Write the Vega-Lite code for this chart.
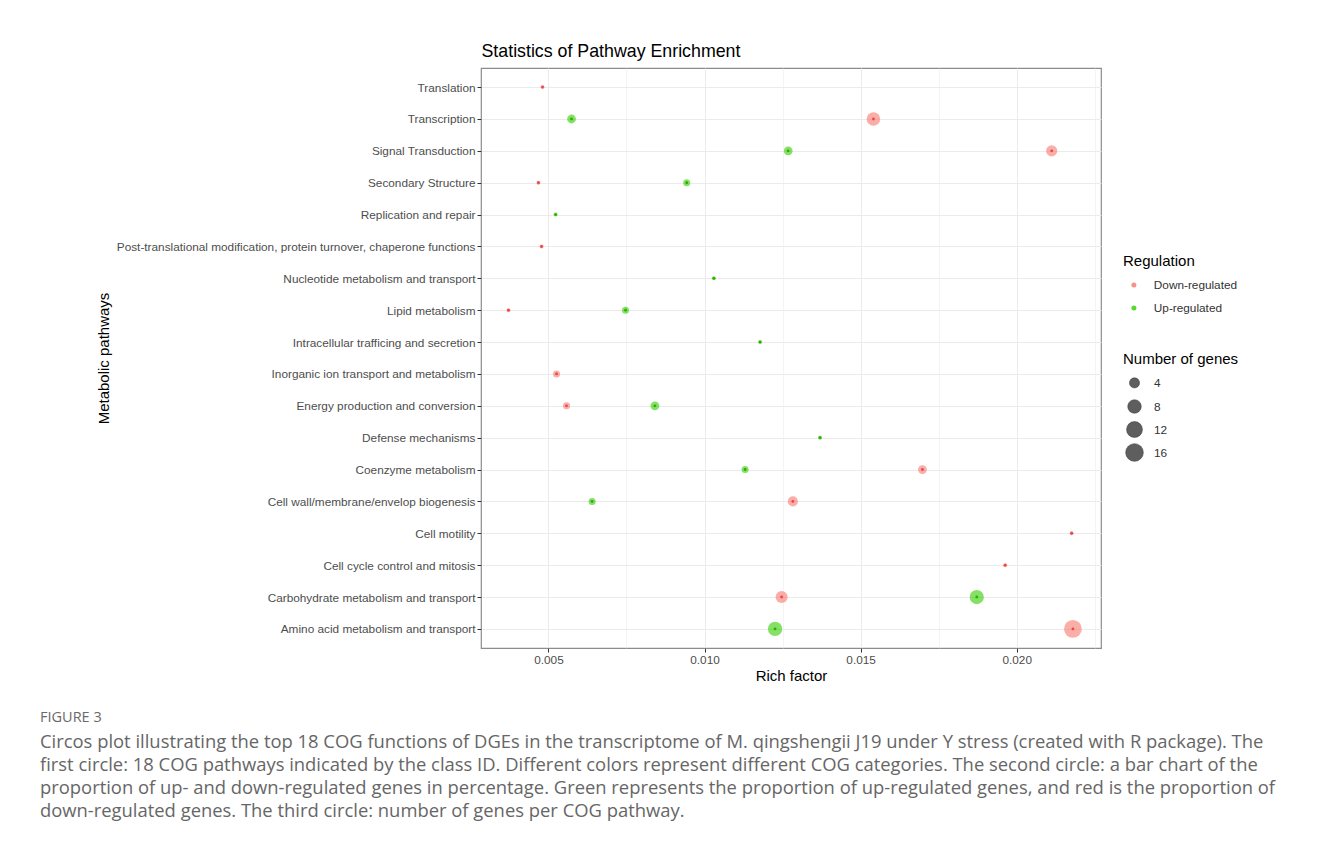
{
  "$schema": "https://vega.github.io/schema/vega-lite/v6.json",
  "autosize": "none",
  "width": 620,
  "height": 580,
  "padding": {"left": 481, "top": 68, "right": 230, "bottom": 199},
  "background": "white",
  "title": {
    "text": "FIGURE 3",
    "subtitle": [
      "Circos plot illustrating the top 18 COG functions of DGEs in the transcriptome of M. qingshengii J19 under Y stress (created with R package). The",
      "first circle: 18 COG pathways indicated by the class ID. Different colors represent different COG categories. The second circle: a bar chart of the",
      "proportion of up- and down-regulated genes in percentage. Green represents the proportion of up-regulated genes, and red is the proportion of",
      "down-regulated genes. The third circle: number of genes per COG pathway."
    ],
    "orient": "bottom",
    "anchor": "start",
    "frame": "group",
    "dx": -441,
    "offset": 27,
    "font": "Open Sans",
    "fontSize": 14.5,
    "fontWeight": "normal",
    "color": "#6a6a6a",
    "subtitleFont": "Open Sans",
    "subtitleFontSize": 18.4,
    "subtitleColor": "#666666",
    "subtitleLineHeight": 23,
    "subtitlePadding": 8
  },
  "data": {
    "values": [
      {"pathway": "Translation", "regulation": "Down-regulated", "rich": 0.00481, "count": 1},
      {"pathway": "Transcription", "regulation": "Up-regulated", "rich": 0.00574, "count": 3},
      {"pathway": "Transcription", "regulation": "Down-regulated", "rich": 0.01541, "count": 8},
      {"pathway": "Signal Transduction", "regulation": "Up-regulated", "rich": 0.01268, "count": 3},
      {"pathway": "Signal Transduction", "regulation": "Down-regulated", "rich": 0.02112, "count": 5},
      {"pathway": "Secondary Structure", "regulation": "Down-regulated", "rich": 0.00468, "count": 1},
      {"pathway": "Secondary Structure", "regulation": "Up-regulated", "rich": 0.00943, "count": 2},
      {"pathway": "Replication and repair", "regulation": "Up-regulated", "rich": 0.00523, "count": 1},
      {"pathway": "Post-translational modification, protein turnover, chaperone functions", "regulation": "Down-regulated", "rich": 0.00478, "count": 1},
      {"pathway": "Nucleotide metabolism and transport", "regulation": "Up-regulated", "rich": 0.0103, "count": 1},
      {"pathway": "Lipid metabolism", "regulation": "Down-regulated", "rich": 0.00372, "count": 1},
      {"pathway": "Lipid metabolism", "regulation": "Up-regulated", "rich": 0.00747, "count": 2},
      {"pathway": "Intracellular trafficing and secretion", "regulation": "Up-regulated", "rich": 0.01178, "count": 1},
      {"pathway": "Inorganic ion transport and metabolism", "regulation": "Down-regulated", "rich": 0.00526, "count": 2},
      {"pathway": "Energy production and conversion", "regulation": "Down-regulated", "rich": 0.00558, "count": 2},
      {"pathway": "Energy production and conversion", "regulation": "Up-regulated", "rich": 0.00841, "count": 3},
      {"pathway": "Defense mechanisms", "regulation": "Up-regulated", "rich": 0.0137, "count": 1},
      {"pathway": "Coenzyme metabolism", "regulation": "Up-regulated", "rich": 0.0113, "count": 2},
      {"pathway": "Coenzyme metabolism", "regulation": "Down-regulated", "rich": 0.01698, "count": 3},
      {"pathway": "Cell wall/membrane/envelop biogenesis", "regulation": "Up-regulated", "rich": 0.0064, "count": 2},
      {"pathway": "Cell wall/membrane/envelop biogenesis", "regulation": "Down-regulated", "rich": 0.01283, "count": 4},
      {"pathway": "Cell motility", "regulation": "Down-regulated", "rich": 0.02176, "count": 1},
      {"pathway": "Cell cycle control and mitosis", "regulation": "Down-regulated", "rich": 0.01963, "count": 1},
      {"pathway": "Carbohydrate metabolism and transport", "regulation": "Down-regulated", "rich": 0.01247, "count": 6},
      {"pathway": "Carbohydrate metabolism and transport", "regulation": "Up-regulated", "rich": 0.01872, "count": 9},
      {"pathway": "Amino acid metabolism and transport", "regulation": "Up-regulated", "rich": 0.01226, "count": 9},
      {"pathway": "Amino acid metabolism and transport", "regulation": "Down-regulated", "rich": 0.0218, "count": 16}
    ]
  },
  "encoding": {
    "y": {
      "field": "pathway",
      "type": "nominal",
      "sort": ["Translation", "Transcription", "Signal Transduction", "Secondary Structure", "Replication and repair", "Post-translational modification, protein turnover, chaperone functions", "Nucleotide metabolism and transport", "Lipid metabolism", "Intracellular trafficing and secretion", "Inorganic ion transport and metabolism", "Energy production and conversion", "Defense mechanisms", "Coenzyme metabolism", "Cell wall/membrane/envelop biogenesis", "Cell motility", "Cell cycle control and mitosis", "Carbohydrate metabolism and transport", "Amino acid metabolism and transport"],
      "scale": {"type": "point", "padding": 0.6},
      "axis": {
        "title": "Metabolic pathways",
        "titleFontSize": 15,
        "titleFontWeight": "normal",
        "titleColor": "#000000",
        "titleX": -370,
        "labelFontSize": 11.8,
        "labelColor": "#4D4D4D",
        "labelLimit": 600,
        "labelPadding": 2,
        "tickSize": 4,
        "tickColor": "#333333",
        "domain": false,
        "grid": true,
        "gridColor": "#EBEBEB",
        "gridWidth": 1
      }
    }
  },
  "layer": [
    {
      "mark": {"type": "circle", "opacity": 0.6},
      "encoding": {
        "x": {
          "field": "rich",
          "type": "quantitative",
          "scale": {"domain": [0.00284, 0.0227], "nice": false, "zero": false},
          "axis": {
            "title": "Rich factor",
            "titleFontSize": 15,
            "titleFontWeight": "normal",
            "titleColor": "#000000",
            "titlePadding": 3,
            "values": [0.005, 0.01, 0.015, 0.02],
            "format": ".3f",
            "labelFontSize": 11.8,
            "labelColor": "#4D4D4D",
            "labelPadding": 2,
            "tickSize": 4,
            "tickColor": "#333333",
            "domain": false,
            "grid": true,
            "gridColor": "#EBEBEB",
            "gridWidth": 1
          }
        },
        "color": {
          "field": "regulation",
          "type": "nominal",
          "scale": {"domain": ["Down-regulated", "Up-regulated"], "range": ["#F8766D", "#33CC00"]},
          "legend": {
            "title": "Regulation",
            "symbolSize": 25,
            "symbolOpacity": 0.8,
            "symbolOffset": 5,
            "labelOffset": 14,
            "rowPadding": 10,
            "orient": "right"
          }
        },
        "size": {
          "field": "count",
          "type": "quantitative",
          "scale": {"type": "pow", "exponent": 0.65, "domain": [1, 16], "range": [16, 314], "zero": false},
          "legend": {
            "title": "Number of genes",
            "values": [4, 8, 12, 16],
            "symbolFillColor": "#5E5E5E",
            "symbolStrokeColor": "#3A3A3A",
            "symbolStrokeWidth": 0.5,
            "symbolOpacity": 1,
            "symbolOffset": 2,
            "labelOffset": 10,
            "gridAlign": "all",
            "rowPadding": 1,
            "orient": "right"
          }
        }
      }
    },
    {
      "mark": {"type": "circle", "opacity": 1, "size": 8},
      "encoding": {
        "x": {
          "field": "rich",
          "type": "quantitative",
          "scale": {"domain": [0.00284, 0.0227], "nice": false, "zero": false},
          "axis": {
            "orient": "top",
            "title": "Statistics of Pathway Enrichment",
            "titleFontSize": 17.8,
            "titleFontWeight": "normal",
            "titleColor": "#000000",
            "titleAnchor": "start",
            "titlePadding": 8,
            "values": [0.0075, 0.0125, 0.0175, 0.0225],
            "labels": false,
            "ticks": false,
            "domain": false,
            "grid": true,
            "gridColor": "#EDEDED",
            "gridWidth": 0.6
          }
        },
        "color": {
          "field": "regulation",
          "type": "nominal",
          "scale": {"domain": ["Down-regulated", "Up-regulated"], "range": ["#E8474C", "#2AAE00"]},
          "legend": null
        }
      }
    }
  ],
  "resolve": {"axis": {"x": "independent"}, "scale": {"color": "independent", "size": "independent"}},
  "config": {
    "font": "Liberation Sans",
    "view": {"stroke": "#8C8C8C", "strokeWidth": 1.2},
    "axis": {"labelLimit": 600},
    "legend": {
      "titleFontSize": 15,
      "titleFontWeight": "normal",
      "titleColor": "#000000",
      "titlePadding": 10,
      "labelFontSize": 11.8,
      "labelColor": "#333333",
      "offset": 22,
      "padding": 0,
      "layout": {"right": {"anchor": "middle", "direction": "vertical", "margin": 37}}
    }
  }
}
